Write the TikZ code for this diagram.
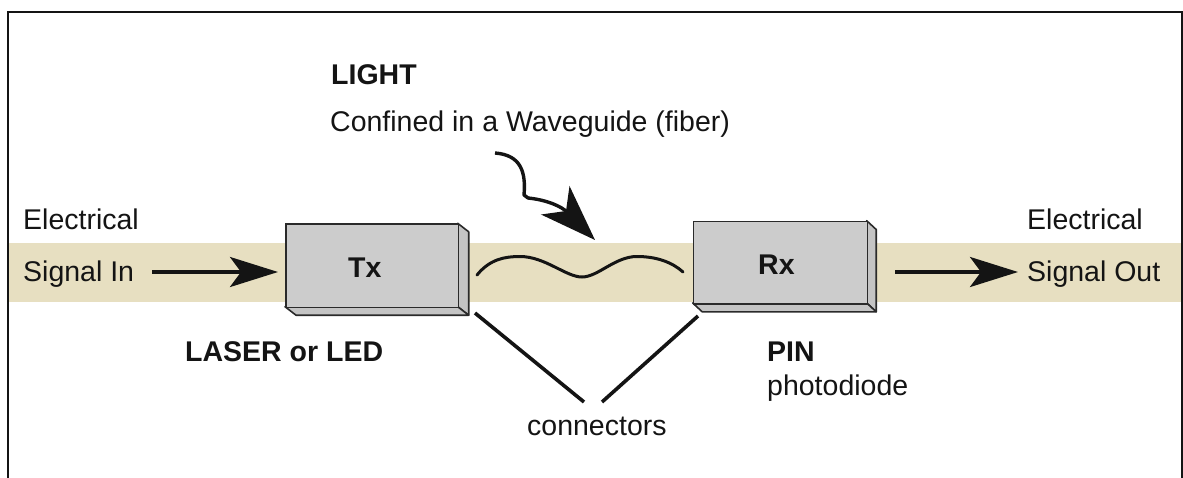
\documentclass[tikz,border=0pt]{standalone}
\usepackage{fontspec}
\setmainfont{Liberation Sans}
\usetikzlibrary{arrows.meta}
\definecolor{band}{HTML}{E7DFC1}
\definecolor{boxface}{HTML}{CCCCCC}
\definecolor{boxside}{HTML}{C4C4C4}
\definecolor{boxedge}{HTML}{2A2A2A}
\definecolor{ink}{HTML}{141414}
\begin{document}
\begin{tikzpicture}[x=1pt,y=-1pt,
  txt/.style={anchor=base west,inner sep=0pt,text=ink,font=\fontsize{28.5}{34}\selectfont},
  btxt/.style={txt,font=\fontsize{28.5}{34}\selectfont\bfseries},
  face/.style={draw=boxedge,fill=boxface,line width=1.6pt,inner sep=0pt,anchor=north west},
  side/.style={draw=boxedge,fill=boxside,line width=1.6pt,line join=round},
  heavy/.style={line width=3.6pt,draw=ink,line cap=round},
  flowtip/.style={-{Stealth[length=48pt,width=30pt,inset=11pt]}},
  lighttip/.style={-{Stealth[length=56pt,width=40pt,inset=15pt]}}
]
\useasboundingbox (0,0) rectangle (1183,477);

% electrical signal path
\fill[band] (9,243) rectangle (1181,302);

% outer frame, open at the bottom
\draw[line width=2.4pt,draw=ink,line join=miter] (8,480) -- (8,12) -- (1182,12) -- (1182,480);

% transmitter block
\draw[side] (457.7,223.3) -- (468.7,231.8) -- (468.7,315.2) -- (457.7,306.7) -- cycle;
\draw[side] (285,306.7) -- (457.7,306.7) -- (468.7,315.2) -- (296,315.2) -- cycle;
\node[face,minimum width=172.7pt,minimum height=83.4pt] (tx) at (285,223.3) {};
\node[btxt] (txlbl) at (348,277) {Tx};

% receiver block
\draw[side] (866.7,220.7) -- (876.2,229.5) -- (876.2,311.8) -- (866.7,303) -- cycle;
\draw[side] (692.7,303) -- (866.7,303) -- (876.2,311.8) -- (702.2,311.8) -- cycle;
\node[face,minimum width=174pt,minimum height=82.3pt] (rx) at (692.7,220.7) {};
\node[btxt] (rxlbl) at (758,274) {Rx};

% labels
\node[btxt] (light) at (331,84) {LIGHT};
\node[txt] (confined) at (330,131.5) {Confined in a Waveguide (fiber)};
\node[txt] (elin) at (23,229) {Electrical};
\node[txt] (sigin) at (23,281) {Signal In};
\node[txt] (elout) at (1027,229) {Electrical};
\node[txt] (sigout) at (1027,281) {Signal Out};
\node[btxt] (laser) at (185,361) {LASER or LED};
\node[btxt] (pin) at (767,361) {PIN};
\node[txt] (photo) at (767,395) {photodiode};
\node[txt] (conn) at (527,435) {connectors};

% signal arrows
\coordinate (inStart) at (152,272);
\coordinate (outStart) at (895,272);
\coordinate (outEnd) at (1018,272);
\draw[heavy,line cap=butt,flowtip,shorten >=7pt] (inStart) -- (inStart -| tx.west);
\draw[heavy,line cap=butt,flowtip] (outStart) -- (outEnd);

% light wave in the fiber
\coordinate (waveA) at (477,275);
\coordinate (waveB) at (683,272);
\draw[line width=3pt,draw=ink,line cap=round]
  (waveA) .. controls (490,259) and (505,256.5) .. (520,256.5)
          .. controls (545,256.5) and (566,277) .. (582,277)
          .. controls (598,277) and (615,256.5) .. (637,256.5)
          .. controls (656,256.5) and (672,262) .. (waveB);

% curly pointer to the fiber
\coordinate (curlStart) at (495,153);
\coordinate (curlTip) at (595,240);
\draw[line width=3.4pt,draw=ink,lighttip,line join=round]
  (curlStart) .. controls (521,155) and (526,172) .. (524,195)
  -- (528,198) .. controls (548,200) and (562,207) .. (curlTip);

% connector pointers
\coordinate (txConn) at (475,313);
\coordinate (rxConn) at (698,316);
\coordinate (connL) at (584,402);
\coordinate (connR) at (602,402);
\draw[heavy,line cap=butt] (txConn) -- (connL);
\draw[heavy,line cap=butt] (rxConn) -- (connR);
\end{tikzpicture}
\end{document}
